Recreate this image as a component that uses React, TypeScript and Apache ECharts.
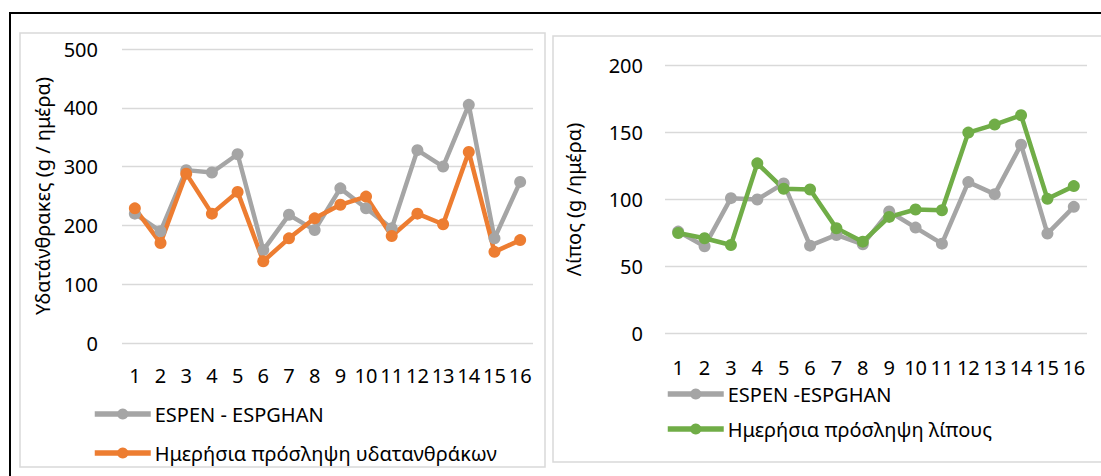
import React, { useEffect, useRef } from "react";
import * as echarts from "echarts";

const categories = ["1","2","3","4","5","6","7","8","9","10","11","12","13","14","15","16"];
const carbEspen = [220, 190, 294, 290, 321, 158, 218, 192, 263, 229, 195, 328, 300, 405, 178, 274];
const carbIntake = [229, 170, 288, 220, 257, 139, 178, 212, 235, 249, 182, 220, 202, 325, 155, 175];
const fatEspen = [76, 65, 101, 100, 112, 65.5, 73.5, 66.5, 91, 79, 67, 113, 104, 141, 74.5, 94.5];
const fatIntake = [75, 71, 66, 127, 108, 107.5, 78.5, 68.5, 87, 92.5, 92, 150, 156, 163, 100.5, 110];

const GRAY = "#A5A5A5";
const ORANGE = "#ED7D31";
const GREEN = "#70AD47";
const FONT = "'Noto Sans', sans-serif";

export default function App() {
  const ref = useRef<HTMLDivElement>(null);
  useEffect(() => {
    const chart = echarts.init(ref.current!, null, { renderer: "svg" });
    const lineSeries = (name: string, data: number[], color: string, idx: number) => ({
      name,
      type: "line",
      xAxisIndex: idx,
      yAxisIndex: idx,
      data,
      symbol: "circle",
      symbolSize: 12,
      color,
      lineStyle: { width: 4.5, color },
      itemStyle: { color },
    });
    const tickText = { color: "#000", fontSize: 20, fontFamily: FONT };
    const legendText = { ...tickText, lineHeight: 20, padding: [0, 0, 0, -1] };
    chart.setOption({
      animation: false,
      graphic: [
        { type: "rect", shape: { x: 10, y: 13, width: 1100, height: 480 }, style: { fill: "none", stroke: "#000", lineWidth: 2 } },
        { type: "rect", shape: { x: 20, y: 33, width: 525, height: 434 }, style: { fill: "#fff", stroke: "#D9D9D9", lineWidth: 1.5 } },
        { type: "rect", shape: { x: 553, y: 36, width: 560, height: 426 }, style: { fill: "#fff", stroke: "#D9D9D9", lineWidth: 1.5 } },
      ],
      grid: [
        { left: 122, top: 49, width: 411, height: 294 },
        { left: 665, top: 65.7, width: 422, height: 267.6 },
      ],
      legend: [
        {
          orient: "vertical", left: 87, top: 399, height: 70, itemWidth: 56, itemHeight: 14, itemGap: 19,
          textStyle: legendText, lineStyle: { width: 5.5 },
          data: ["ESPEN - ESPGHAN", "Ημερήσια πρόσληψη υδατανθράκων"],
        },
        {
          orient: "vertical", left: 660, top: 379, height: 70, itemWidth: 56, itemHeight: 14, itemGap: 15,
          textStyle: legendText, lineStyle: { width: 5.5 },
          data: ["ESPEN -ESPGHAN", "Ημερήσια πρόσληψη λίπους"],
        },
      ],
      xAxis: [0, 1].map((i) => ({
        type: "category",
        gridIndex: i,
        data: categories,
        boundaryGap: true,
        axisLine: { show: false },
        axisTick: { show: false },
        axisLabel: { ...tickText, interval: 0, margin: i === 0 ? 22 : 24 },
      })),
      yAxis: [
        {
          type: "value", gridIndex: 0, min: 0, max: 500, interval: 100,
          name: "Υδατάνθρακες (g / ημέρα)", nameLocation: "middle", nameGap: 70, nameRotate: 90,
          nameTextStyle: tickText,
          axisLabel: { ...tickText, margin: 24 },
          splitLine: { lineStyle: { color: "#D9D9D9", width: 1.3 } },
        },
        {
          type: "value", gridIndex: 1, min: 0, max: 200, interval: 50,
          name: "Λίπος (g /ημέρα)", nameLocation: "middle", nameGap: 82, nameRotate: 90,
          nameTextStyle: tickText,
          axisLabel: { ...tickText, margin: 22 },
          splitLine: { lineStyle: { color: "#D9D9D9", width: 1.3 } },
        },
      ],
      series: [
        lineSeries("ESPEN - ESPGHAN", carbEspen, GRAY, 0),
        lineSeries("Ημερήσια πρόσληψη υδατανθράκων", carbIntake, ORANGE, 0),
        lineSeries("ESPEN -ESPGHAN", fatEspen, GRAY, 1),
        lineSeries("Ημερήσια πρόσληψη λίπους", fatIntake, GREEN, 1),
      ],
    });
    return () => chart.dispose();
  }, []);
  return <div ref={ref} style={{ position: "fixed", left: 0, top: 0, width: 1101, height: 476, background: "#fff" }} />;
}
